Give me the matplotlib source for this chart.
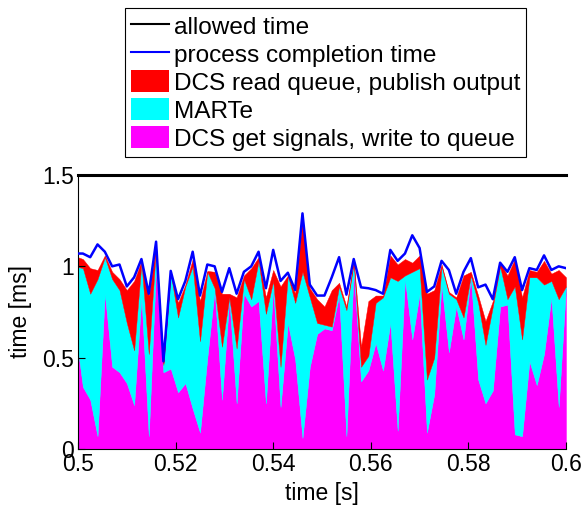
import numpy as np
import matplotlib
matplotlib.use("Agg")
import matplotlib.pyplot as plt
from matplotlib.lines import Line2D
from matplotlib.patches import Patch

plt.rcParams['font.family'] = ['Liberation Sans', 'DejaVu Sans']

# sample grid (s)
t0 = 0.4995
dt = 0.0015
n_samples = 68

# stacked levels (ms)
get_signals_top = [0.64, 0.34, 0.27, 0.07, 0.85, 0.45, 0.42, 0.36, 0.24, 0.83,
                   0.07, 1.00, 0.42, 0.44, 0.31, 0.36, 0.22, 0.09, 0.50, 0.87,
                   0.27, 0.82, 0.25, 0.85, 0.78, 0.81, 0.25, 0.88, 0.23, 0.69,
                   0.49, 0.06, 0.45, 0.63, 0.66, 0.65, 0.84, 0.07, 0.98, 0.37,
                   0.43, 0.58, 0.43, 0.69, 0.10, 0.93, 0.60, 0.85, 0.09, 0.30,
                   0.90, 0.53, 0.78, 0.60, 0.94, 0.38, 0.25, 0.32, 0.78, 0.79,
                   0.08, 0.07, 0.48, 0.35, 0.52, 0.83, 0.23, 0.89]
marte_top = [1.00, 0.99, 0.85, 0.93, 1.05, 0.93, 0.87, 0.69, 0.54, 1.02,
             0.52, 1.11, 0.46, 0.96, 0.72, 0.89, 1.00, 0.59, 0.97, 0.88,
             0.56, 0.83, 0.55, 0.93, 0.82, 1.03, 0.74, 0.92, 0.45, 0.95,
             0.80, 0.97, 0.83, 0.69, 0.68, 0.67, 0.89, 0.76, 1.02, 0.45,
             0.51, 0.80, 0.83, 0.94, 0.92, 0.95, 0.97, 0.99, 0.38, 0.50,
             1.00, 0.85, 0.82, 0.72, 0.95, 0.80, 0.57, 0.78, 1.00, 0.82,
             0.89, 0.60, 0.94, 0.94, 0.90, 0.92, 0.82, 0.89]
read_queue_top = [1.055, 1.04, 0.99, 0.98, 1.06, 0.97, 0.93, 0.87, 0.92, 1.03,
                  0.84, 1.12, 0.47, 0.97, 0.80, 0.90, 1.04, 0.81, 0.975, 0.97,
                  0.85, 0.85, 0.83, 0.95, 0.99, 1.05, 0.83, 0.98, 0.89, 0.95,
                  0.85, 1.27, 0.88, 0.82, 0.78, 0.87, 0.91, 0.78, 1.03, 0.56,
                  0.81, 0.84, 0.84, 1.06, 1.01, 1.04, 1.02, 1.06, 0.85, 0.87,
                  1.01, 0.86, 0.83, 0.95, 0.97, 0.84, 0.70, 0.81, 1.02, 0.95,
                  1.04, 0.83, 0.98, 0.97, 1.03, 0.96, 0.98, 0.94]
completion = [1.07, 1.07, 1.05, 1.12, 1.08, 1.00, 1.01, 0.89, 0.94, 1.04,
              0.85, 1.135, 0.48, 0.975, 0.82, 0.92, 1.08, 0.84, 1.01, 1.00,
              0.86, 0.99, 0.85, 0.97, 1.00, 1.08, 0.88, 1.09, 0.92, 0.965,
              0.87, 1.29, 0.90, 0.84, 0.84, 0.94, 1.05, 0.845, 1.04, 0.885,
              0.88, 0.87, 0.85, 1.09, 1.03, 1.07, 1.17, 1.10, 0.86, 0.89,
              1.03, 0.98, 0.85, 0.97, 1.045, 0.885, 0.90, 0.82, 1.02, 0.97,
              1.05, 0.87, 0.99, 0.98, 1.06, 0.98, 1.00, 0.99]
allowed_time = 1.5

labels = ['allowed time', 'process completion time',
          'DCS read queue, publish output', 'MARTe',
          'DCS get signals, write to queue']
xticks = [0.5, 0.52, 0.54, 0.56, 0.58, 0.6]
xticklabels = ['0.5', '0.52', '0.54', '0.56', '0.58', '0.6']
yticks = [0, 0.5, 1, 1.5]
yticklabels = ['0', '0.5', '1', '1.5']

t = t0 + dt * np.arange(n_samples)
g = np.array(get_signals_top)
m = np.array(marte_top)
r = np.array(read_queue_top)
c = np.array(completion)

fig = plt.figure(figsize=(5.84, 5.09), dpi=100)
ax = fig.add_axes([78/584, 1-449/509, (566-78)/584, (449-175)/509])

ax.fill_between(t, 0, g, facecolor='#ff00ff', edgecolor='#ff00ff', lw=0.3)
ax.fill_between(t, g, m, facecolor='#00ffff', edgecolor='#00ffff', lw=0.3)
ax.fill_between(t, m, r, facecolor='#ff0000', edgecolor='#ff0000', lw=0.3)
ax.plot(t, c, color='#0000ff', lw=1.8, zorder=4)
ax.axhline(allowed_time, color='black', lw=2.2, zorder=5, clip_on=False)

ax.set_xlim(0.5, 0.6)
ax.set_ylim(0, 1.5)
ax.set_xticks(xticks)
ax.set_xticklabels(xticklabels)
ax.set_yticks(yticks)
ax.set_yticklabels(yticklabels)
for s in ['top', 'right']:
    ax.spines[s].set_visible(False)
for s in ['left', 'bottom']:
    ax.spines[s].set_linewidth(0.8)
ax.tick_params(direction='in', length=5, width=0.8, labelsize=16.5, pad=3)
ax.set_xlabel('time [s]', fontsize=16.5, labelpad=4)
ax.set_ylabel('time [ms]', fontsize=16.5, labelpad=7)

handles = [Line2D([], [], color='black', lw=1.5),
           Line2D([], [], color='#0000ff', lw=1.5),
           Patch(facecolor='#ff0000', edgecolor='none'),
           Patch(facecolor='#00ffff', edgecolor='none'),
           Patch(facecolor='#ff00ff', edgecolor='none')]
leg = fig.legend(handles, labels, loc='upper left',
                 bbox_to_anchor=(125/584, 1-8/509), borderaxespad=0,
                 fontsize=17.6, frameon=True, fancybox=False,
                 edgecolor='black', framealpha=1, handlelength=1.55,
                 handleheight=1.0, handletextpad=0.18, labelspacing=0.15,
                 borderpad=0.26)
leg.get_frame().set_linewidth(0.8)

fig.savefig('out.png', dpi=100)
